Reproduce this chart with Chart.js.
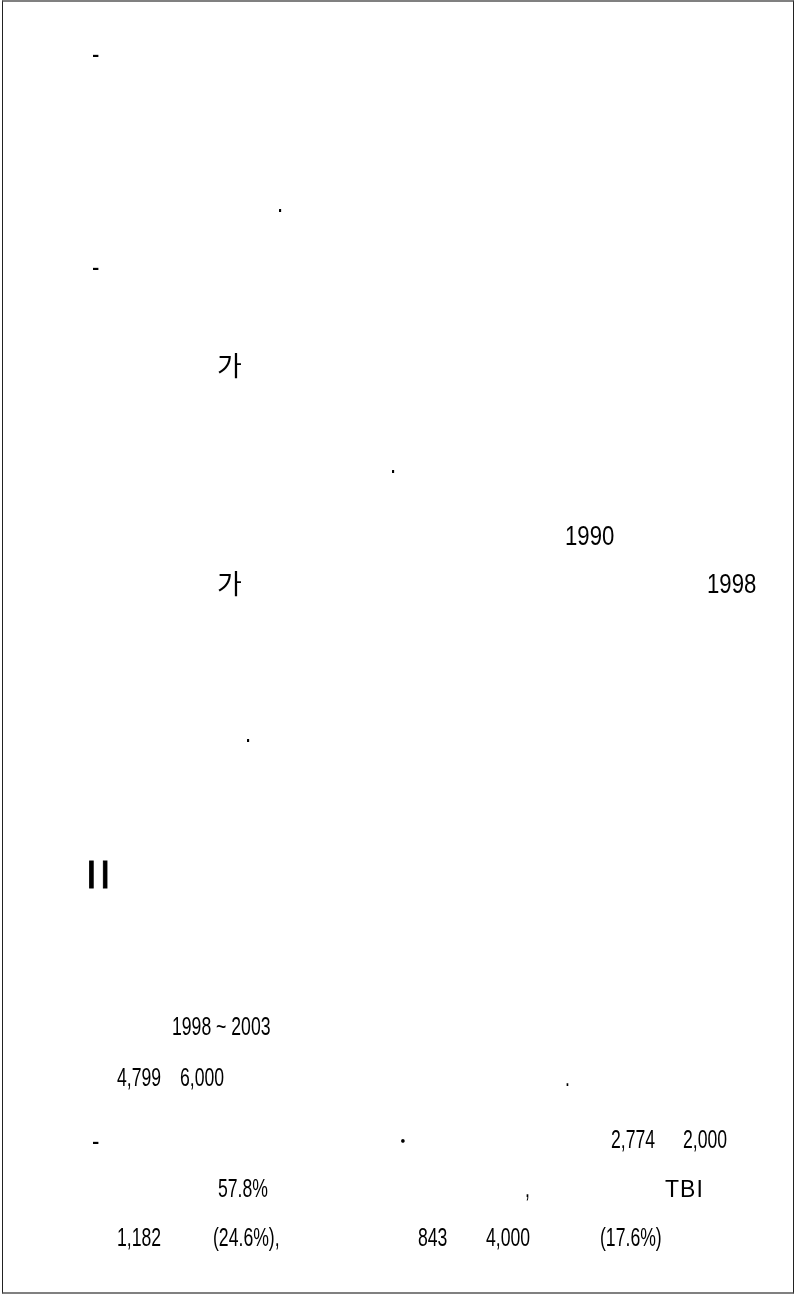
<!DOCTYPE html>
<html>
<head>
<meta charset="utf-8">
<script src="https://cdn.jsdelivr.net/npm/chart.js@4/dist/chart.umd.min.js"></script>
<style>
  html, body { margin: 0; padding: 0; background: #fff; }
  #wrap { position: relative; width: 796px; height: 1297px; }
  #page { position: absolute; left: 2px; top: 0; width: 790px; height: 1290px;
          border-top: 2px solid #808080; border-bottom: 2px solid #808080;
          border-left: 1px solid #222; border-right: 1px solid #222; }
  canvas { position: absolute; left: 0; top: 0; }
</style>
</head>
<body>
<div id="wrap">
  <div id="page"></div>
  <canvas id="docChart" width="796" height="1297"></canvas>
</div>
<script>
// text fragments left on the page (page units = px, y measured to baseline)
const fragments = ['-', '.', '-', '가', '.', '1990', '가', '1998', '.', 'II',
                   '1998 ~ 2003', '4,799', '6,000', '.',
                   '-', '·', '2,774', '2,000',
                   '57.8%', ',', 'TBI',
                   '1,182', '(24.6%),', '843', '4,000', '(17.6%)'];
const fragX = [92, 277, 92, 217, 390, 565, 217, 707, 245, 86,
               172, 117, 180, 565,
               92, 397, 611, 683,
               218, 525, 665,
               117, 213, 418, 486, 600];
const fragY = [63, 212, 276, 376, 473, 545, 594, 593, 742, 888,
               1035, 1086, 1086, 1086,
               1150, 1148, 1148, 1148,
               1197, 1197, 1197,
               1246, 1246, 1246, 1246, 1246];
// which text style each fragment uses
const fragKind = ['body', 'body', 'body', 'hangul', 'body', 'body', 'hangul', 'body', 'body', 'heading',
                  'small', 'small', 'small', 'small',
                  'body', 'dot', 'small', 'small',
                  'small', 'small', 'latin',
                  'small', 'small', 'small', 'small', 'small'];

const kindStyle = {
  body:    { size: 27, family: 'narrow', weight: '', squeeze: 1 },
  small:   { size: 25, family: 'narrow', weight: '', squeeze: 0.86 },
  latin:   { size: 23, family: '"Liberation Sans", Arial', weight: '', squeeze: 1 },
  hangul:  { size: 27, family: '"Noto Sans CJK KR"', weight: '', squeeze: 1 },
  dot:     { size: 20, family: '"Noto Sans CJK KR"', weight: 'bold ', squeeze: 1 },
  heading: { size: 39, family: '"Liberation Sans", Arial', weight: '', squeeze: 1 }
};

function narrowAvailable(ctx) {
  ctx.font = '27px monospace';
  const a = ctx.measureText('1990 TBI').width;
  ctx.font = '27px "Liberation Sans Narrow", monospace';
  const b = ctx.measureText('1990 TBI').width;
  return Math.abs(a - b) > 0.5;
}

const pageText = {
  id: 'pageText',
  afterDatasetsDraw(chart) {
    const { ctx, scales: { x, y } } = chart;
    const hasNarrow = narrowAvailable(ctx);
    ctx.save();
    ctx.fillStyle = '#000';
    ctx.strokeStyle = '#000';
    ctx.textBaseline = 'alphabetic';
    ctx.textAlign = 'left';
    chart.data.datasets[0].data.forEach((p, i) => {
      const kind = fragKind[i];
      const st = kindStyle[kind];
      const px = x.getPixelForValue(p.x);
      const py = y.getPixelForValue(p.y);
      ctx.save();
      ctx.translate(px, py);
      let sx = st.squeeze;
      if (st.family === 'narrow') {
        if (hasNarrow) {
          ctx.font = st.weight + st.size + 'px "Liberation Sans Narrow"';
        } else {
          ctx.font = st.weight + st.size + 'px "Liberation Sans", Arial';
          sx *= 0.82;
        }
      } else {
        ctx.font = st.weight + st.size + 'px ' + st.family;
      }
      ctx.scale(sx, 1);
      if (kind === 'latin') ctx.letterSpacing = '1px';
      if (kind === 'heading') {
        // roman numeral heading: spaced, slightly heavier strokes
        ctx.letterSpacing = '3px';
        ctx.lineWidth = 0.9;
        ctx.strokeText(fragments[i], 0, 0);
      }
      ctx.fillText(fragments[i], 0, 0);
      ctx.restore();
    });
    ctx.restore();
  }
};

new Chart(document.getElementById('docChart'), {
  type: 'scatter',
  data: {
    datasets: [{
      label: 'fragments',
      data: fragments.map((t, i) => ({ x: fragX[i], y: fragY[i] })),
      pointRadius: 0
    }]
  },
  plugins: [pageText],
  options: {
    responsive: false, animation: false,
    layout: { padding: 0 },
    plugins: { legend: { display: false }, tooltip: { enabled: false } },
    scales: {
      x: { type: 'linear', min: 0, max: 796, display: false },
      y: { type: 'linear', min: 0, max: 1297, reverse: true, display: false }
    }
  }
});
</script>
</body>
</html>
